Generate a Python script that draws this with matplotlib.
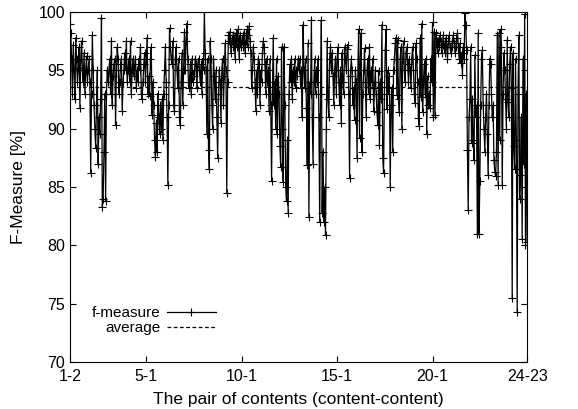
import numpy as np
import matplotlib
matplotlib.use("Agg")
import matplotlib.pyplot as plt

plt.rcParams['font.family'] = ['Liberation Sans', 'DejaVu Sans']

# f-measure per pair, one list per first content (23 pairs each)
c01 = [99.0, 98.2, 96.0, 93.0, 97.2, 95.0, 92.5, 97.8, 96.0, 94.0, 95.2, 97.0, 91.8, 96.0, 97.5, 95.0, 94.0, 96.5, 93.0, 95.0, 96.2, 94.0, 95.0]
c02 = [96.0, 94.0, 86.2, 93.0, 98.0, 95.0, 92.0, 90.0, 88.3, 92.0, 95.0, 87.0, 91.0, 89.5, 92.5, 99.5, 83.3, 84.0, 88.0, 93.0, 83.8, 93.0, 95.0]
c03 = [94.0, 95.0, 96.0, 93.0, 97.5, 92.0, 94.5, 95.5, 96.0, 90.3, 95.0, 97.0, 96.0, 93.0, 94.0, 95.5, 96.0, 91.5, 94.0, 95.0, 96.5, 95.0, 97.5]
c04 = [94.0, 95.0, 96.0, 94.0, 97.5, 93.0, 95.0, 96.0, 94.5, 95.5, 96.0, 93.5, 95.0, 94.0, 96.0, 95.0, 97.0, 93.0, 92.5, 94.0, 95.5, 96.5, 94.0]
c05 = [96.0, 97.8, 93.0, 94.5, 92.8, 96.0, 97.0, 91.2, 94.0, 92.0, 89.0, 87.6, 90.5, 88.0, 93.0, 91.0, 89.5, 92.0, 90.0, 92.5, 89.0, 93.0, 95.0]
c06 = [97.0, 94.0, 91.0, 85.2, 92.0, 98.6, 97.0, 96.0, 95.5, 97.5, 92.0, 91.5, 96.0, 97.0, 95.0, 93.5, 96.0, 91.0, 90.3, 94.0, 96.5, 92.0, 95.0]
c07 = [98.3, 95.0, 97.5, 99.0, 96.0, 93.5, 94.0, 95.5, 93.0, 96.0, 94.0, 95.0, 94.5, 96.0, 95.5, 93.5, 95.5, 96.0, 95.0, 94.0, 95.5, 93.0, 96.0]
c08 = [95.0, 100.0, 96.5, 95.0, 89.5, 96.0, 88.2, 86.5, 97.5, 96.0, 92.0, 90.0, 96.0, 94.5, 92.5, 95.0, 91.0, 87.5, 93.0, 95.0, 94.0, 90.5, 95.0]
c09 = [96.0, 92.0, 94.5, 97.3, 95.0, 84.5, 94.0, 98.0, 97.5, 98.3, 96.5, 97.5, 98.0, 97.0, 97.8, 96.0, 98.2, 97.0, 98.5, 97.5, 96.0, 98.0, 97.0]
c10 = [97.5, 98.0, 97.0, 98.2, 96.5, 97.5, 98.5, 97.0, 98.0, 98.8, 97.5, 96.5, 93.5, 95.0, 97.0, 96.0, 94.0, 91.5, 95.0, 93.0, 96.0, 95.5, 92.0]
c11 = [95.0, 94.0, 96.5, 97.5, 97.0, 95.5, 93.0, 96.0, 94.0, 95.0, 91.5, 96.0, 92.0, 85.5, 93.0, 97.8, 92.0, 94.0, 90.0, 96.0, 89.5, 94.5, 93.0]
c12 = [88.5, 86.7, 97.0, 90.0, 85.4, 97.0, 92.0, 85.0, 83.8, 89.0, 82.8, 93.0, 95.5, 94.0, 96.0, 92.5, 95.0, 94.0, 96.0, 93.5, 95.0, 94.5, 96.0]
c13 = [95.0, 96.0, 93.5, 95.0, 91.0, 98.9, 95.0, 93.5, 96.0, 91.8, 86.9, 97.3, 82.4, 94.0, 93.0, 99.3, 91.0, 87.0, 94.0, 96.0, 93.0, 95.0, 94.0]
c14 = [96.0, 91.0, 82.0, 93.0, 99.3, 82.8, 88.0, 82.0, 85.0, 80.9, 90.0, 97.5, 92.5, 91.0, 96.0, 97.0, 95.0, 96.5, 94.5, 92.0, 95.0, 96.0, 93.0]
c15 = [96.0, 97.0, 94.0, 92.0, 95.0, 90.5, 96.5, 94.0, 93.0, 97.0, 96.0, 95.0, 96.8, 97.2, 93.0, 85.8, 94.5, 96.0, 95.0, 92.0, 93.5, 90.7, 95.0]
c16 = [94.0, 87.5, 95.0, 98.5, 89.2, 96.0, 98.2, 88.0, 93.0, 95.0, 96.9, 94.0, 91.0, 95.0, 96.0, 93.0, 97.0, 92.5, 95.0, 94.0, 96.0, 91.5, 93.5]
c17 = [95.0, 93.0, 91.4, 90.3, 94.9, 88.6, 94.0, 92.5, 98.9, 87.5, 86.2, 93.0, 96.7, 98.5, 91.7, 95.0, 93.0, 94.5, 85.0, 92.0, 93.5, 88.0, 95.0]
c18 = [96.0, 97.3, 97.8, 92.9, 97.6, 92.5, 91.4, 96.0, 97.0, 90.0, 96.0, 97.5, 95.0, 94.0, 96.5, 97.0, 95.5, 94.0, 96.0, 95.0, 93.5, 96.0, 97.0]
c19 = [95.0, 93.0, 92.2, 97.3, 96.0, 94.0, 90.9, 90.2, 97.8, 92.7, 99.0, 91.4, 94.0, 95.5, 93.0, 96.0, 89.5, 94.5, 92.0, 93.0, 91.8, 96.0, 94.0]
c20 = [99.1, 91.0, 98.3, 91.2, 98.2, 97.5, 96.5, 97.5, 97.0, 98.0, 97.5, 96.5, 97.2, 98.0, 97.0, 96.5, 97.8, 97.0, 96.0, 97.5, 98.0, 97.0, 96.5]
c21 = [97.0, 97.5, 98.0, 97.3, 96.5, 97.0, 97.8, 98.2, 97.0, 96.0, 97.3, 95.6, 96.5, 94.6, 97.0, 96.0, 99.9, 98.9, 96.7, 88.2, 83.0, 91.0, 92.5]
c22 = [97.0, 88.8, 92.5, 89.0, 87.3, 96.3, 91.0, 92.0, 81.0, 98.2, 81.0, 85.5, 92.0, 96.0, 96.7, 92.0, 90.0, 88.0, 91.0, 93.0, 89.5, 86.0, 92.0]
c23 = [96.0, 95.5, 93.0, 91.0, 92.0, 87.3, 86.3, 85.9, 88.0, 98.0, 85.2, 98.2, 89.0, 98.5, 97.0, 85.2, 93.0, 96.5, 95.0, 92.5, 90.0, 97.6, 92.3]
c24 = [91.0, 95.5, 97.0, 93.5, 75.5, 96.5, 88.5, 86.5, 96.0, 89.0, 74.3, 93.0, 98.0, 84.0, 86.0, 91.0, 80.5, 96.0, 87.0, 99.8, 80.0, 93.0, 80.3]

average = 93.6
tick_labels = ['1-2', '5-1', '10-1', '15-1', '20-1', '24-23']
tick_pos = [0, 92, 207, 322, 437, 551]

fmeasure = c01 + c02 + c03 + c04 + c05 + c06 + c07 + c08 + c09 + c10 + c11 + c12 + \
    c13 + c14 + c15 + c16 + c17 + c18 + c19 + c20 + c21 + c22 + c23 + c24
x = np.arange(len(fmeasure))

fig = plt.figure(figsize=(5.78, 4.09), dpi=100)
ax = fig.add_axes([0.121, 0.115, 0.791, 0.856])

ax.plot(x, fmeasure, color='black', lw=0.9, marker='+', ms=6, mew=0.8, label='f-measure')
ax.axhline(average, color='black', lw=0.9, ls=(0, (3, 2)), label='average')

ax.set_xlim(0, len(fmeasure) - 1)
ax.set_ylim(70, 100)
ax.set_yticks(range(70, 101, 5))
ax.set_xticks(tick_pos)
ax.set_xticklabels(tick_labels)
ax.tick_params(direction='in', top=True, right=True, labelsize=11.5, length=4)
ax.tick_params(axis='x', pad=5)

ax.set_xlabel('The pair of contents (content-content)', fontsize=12.5, labelpad=6)
ax.set_ylabel('F-Measure [%]', fontsize=12.5, labelpad=9)

ax.legend(loc='lower left', bbox_to_anchor=(0.035, 0.06), frameon=False,
          markerfirst=False, fontsize=11, handlelength=3.2, labelspacing=0.05,
          handletextpad=0.4, borderaxespad=0)

fig.savefig('out.png', dpi=100)
